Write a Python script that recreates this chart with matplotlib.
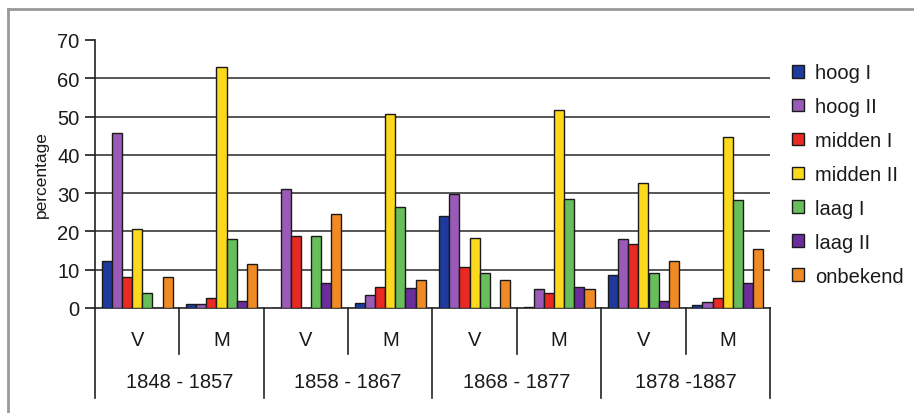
import numpy as np
import matplotlib
matplotlib.use("Agg")
import matplotlib.pyplot as plt
from matplotlib.patches import Patch
from matplotlib.lines import Line2D

plt.rcParams['font.family'] = ['Liberation Sans', 'DejaVu Sans']

# data
periods = ["1848 - 1857", "1858 - 1867", "1868 - 1877", "1878 -1887"]
sexes = ["V", "M"]
series = ["hoog I", "hoog II", "midden I", "midden II", "laag I", "laag II", "onbekend"]
colors = ["#1d3a9c", "#9a5bb8", "#e82a22", "#fcd91c", "#69be5c", "#6b2d9c", "#f08a25"]

# one value per group: V/M for each period, in order
hoog_1   = [12.3, 1.1, 0.0, 1.4, 23.9, 0.3, 8.5, 0.7]
hoog_2   = [45.8, 1.0, 31.1, 3.4, 29.8, 5.0, 18.1, 1.6]
midden_1 = [8.0, 2.6, 18.7, 5.4, 10.7, 4.0, 16.8, 2.6]
midden_2 = [20.7, 63.0, 0.0, 50.6, 18.4, 51.6, 32.7, 44.7]
laag_1   = [4.0, 18.1, 18.7, 26.5, 9.2, 28.5, 9.2, 28.1]
laag_2   = [0.0, 1.8, 6.4, 5.3, 0.0, 5.4, 1.8, 6.4]
onbekend = [8.0, 11.4, 24.6, 7.3, 7.2, 5.0, 12.3, 15.4]
values = [hoog_1, hoog_2, midden_1, midden_2, laag_1, laag_2, onbekend]

W, H = 914, 414
txt = "#1a1a1a"
fig = plt.figure(figsize=(W / 100, H / 100), dpi=100)
ax = fig.add_axes([95 / W, (H - 309) / H, 675 / W, 268 / H])

n_groups = len(hoog_1)
x = np.arange(n_groups) + 0.5
bw = 0.12
for k, (name, vals) in enumerate(zip(series, values)):
    ax.bar(x + (k - 3) * bw, vals, width=bw, color=colors[k], edgecolor="#1a1a1a",
           linewidth=1.0, zorder=3, label=name)

ax.set_xlim(0, n_groups)
ax.set_ylim(0, 70)
ax.set_yticks(range(0, 71, 10))
ax.tick_params(axis="y", labelsize=14.5, length=7, width=1.2, colors=txt, pad=4)
ax.set_xticks([])
for y in range(10, 70, 10):
    ax.axhline(y, color="#3a3a3a", linewidth=1.2, zorder=1)
for s in ["top", "right"]:
    ax.spines[s].set_visible(False)
for s in ["left", "bottom"]:
    ax.spines[s].set_linewidth(1.2)
    ax.spines[s].set_color("#222222")

ax.set_ylabel("percentage", fontsize=12.5, color=txt, labelpad=6)

# two-level category axis
trans = ax.get_xaxis_transform()
for i in range(n_groups + 1):
    bottom = -0.336 if i % 2 == 0 else -0.172
    ax.plot([i, i], [0, bottom], transform=trans, color="#222222", linewidth=1.2,
            clip_on=False)
for i in range(n_groups):
    ax.text(i + 0.5, -0.116, sexes[i % 2], transform=trans, ha="center", va="center",
            fontsize=14.5, color=txt)
for j, p in enumerate(periods):
    ax.text(2 * j + 1, -0.276, p, transform=trans, ha="center", va="center",
            fontsize=14.5, color=txt)

# legend
handles = [Patch(facecolor=c, edgecolor="#1a1a1a", linewidth=1.0) for c in colors]
fig.legend(handles, series, loc="center left", bbox_to_anchor=(792 / W, 1 - 175.5 / H),
           frameon=False, fontsize=14.5, handlelength=0.6, handleheight=0.6,
           handletextpad=0.55, labelspacing=0.74, borderpad=0, borderaxespad=0,
           labelcolor=txt)

# outer frame (top and left edges visible)
fig.add_artist(Line2D([8 / W, 1], [1 - 10 / H, 1 - 10 / H], color="#999999", linewidth=2))
fig.add_artist(Line2D([8 / W, 8 / W], [0, 1 - 10 / H], color="#999999", linewidth=2))

fig.savefig("out.png", dpi=100)
